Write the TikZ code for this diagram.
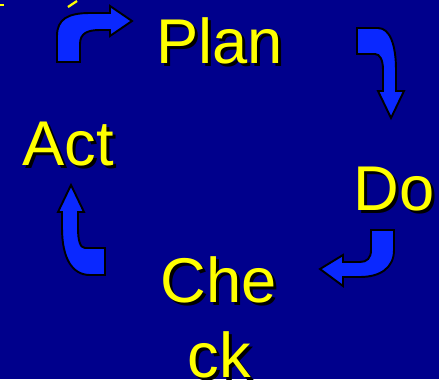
\documentclass[tikz,border=0pt]{standalone}
\usepackage{fontspec}
\setmainfont{Liberation Sans}
\definecolor{slidebg}{RGB}{0,0,140}
\definecolor{arrowblue}{RGB}{10,40,255}
\definecolor{lblyellow}{RGB}{255,255,0}
\tikzset{
  lbl/.style={text=lblyellow, inner sep=0pt, font=\fontsize{36}{43}\selectfont},
  lblshadow/.style={lbl, text=black},
  bentarrow/.style={fill=arrowblue, draw=black, line width=1.1pt, line join=miter}
}
\begin{document}
\begin{tikzpicture}[x=0.02cm, y=-0.02cm]
\useasboundingbox (0,0) rectangle (439,379);
\fill[slidebg] (0,0) rectangle (439,379);
\draw[lblyellow, line width=1.3pt] (0,5) -- (4,5);
\draw[lblyellow, line width=1.3pt] (68,7) -- (77,1);
\foreach \nm/\x/\y/\txt in {plan/156/63/Plan, do/353/210/Do, act/22/165/Act} {
  \node[lblshadow, anchor=base west] (\nm-sh) at (\x+3,\y+3) {\txt};
  \node[lbl, anchor=base west] (\nm) at (\x,\y) {\txt};
}
\node[lblshadow, anchor=north, align=center] (check-sh) at (222,259) {Che\\ck};
\node[lbl, anchor=north, align=center] (check) at (219,256) {Che\\ck};
\filldraw[bentarrow] (57,62) -- (57,36) .. controls (57,19) and (68,13) .. (90,13) -- (110,13) -- (110,6) -- (132,21) -- (110,36) -- (110,30) -- (100,30) .. controls (88,30) and (80,33) .. (80,44) -- (80,62) -- cycle;
\filldraw[bentarrow] (357,28) -- (378,28) .. controls (390,28) and (396,45) .. (396,70) -- (396,91) -- (404,91) -- (391,118) -- (378,91) -- (383,91) -- (383,70) .. controls (383,60) and (380,54) .. (375,54) -- (357,54) -- cycle;
\filldraw[bentarrow] (371,230) -- (394,230) -- (394,250) .. controls (394,268) and (380,277) .. (360,277) -- (343,277) -- (343,286) -- (320,269) -- (343,255) -- (343,262) -- (360,262) .. controls (367,262) and (371,258) .. (371,250) -- cycle;
\filldraw[bentarrow] (105,275) -- (105,248) -- (85,248) .. controls (80,248) and (78,240) .. (78,228) -- (78,212) -- (84,212) -- (71,185) -- (58,212) -- (62,212) -- (62,228) .. controls (62,258) and (72,275) .. (90,275) -- cycle;
\end{tikzpicture}
\end{document}
